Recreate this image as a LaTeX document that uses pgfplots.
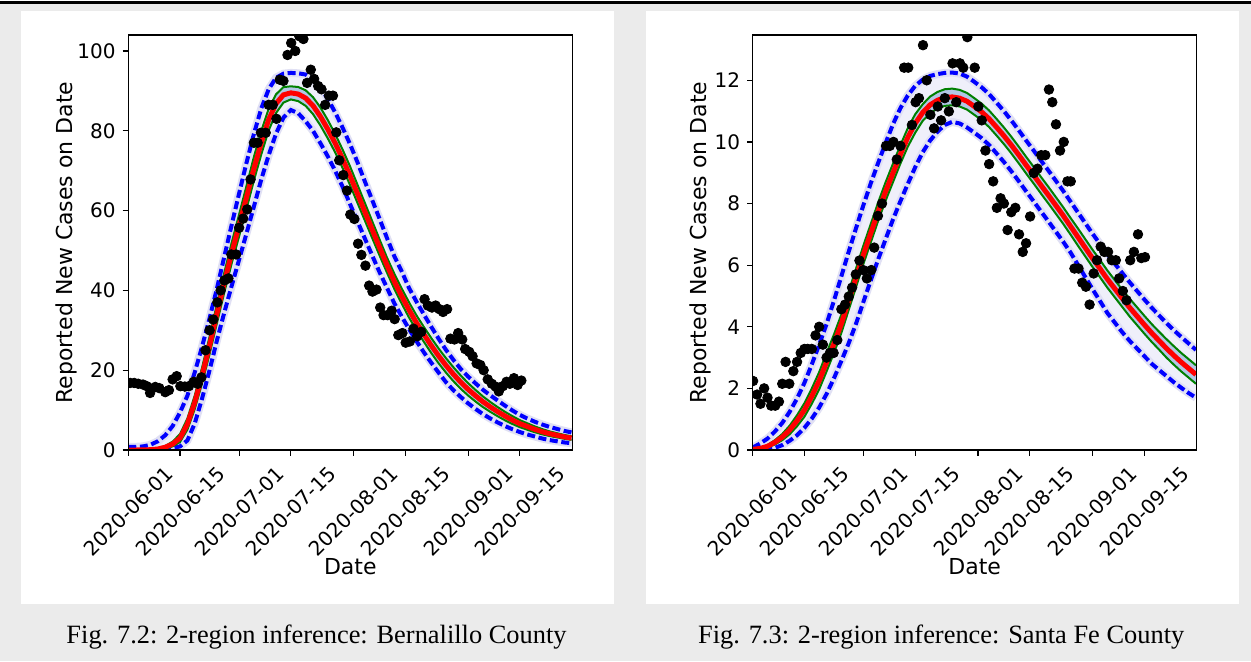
\documentclass[border=0pt]{standalone}
\usepackage{pgfplots}
\usepackage{pgfplotstable}
\pgfplotsset{compat=1.18}
\usepackage{fontspec}
\newfontfamily\dejavu{DejaVu Sans}
\newfontfamily\capfont{Liberation Serif}

\definecolor{bgGray}{RGB}{235,235,235}
\definecolor{ensLav}{RGB}{239,239,250}
\definecolor{ensHalo}{RGB}{224,224,244}
\definecolor{steelFill}{RGB}{178,198,230}
\definecolor{mplGreen}{RGB}{0,128,0}

\pgfplotstableread{
d R GU GL BU BL
0 0.0 0.0 0.0 0.8 0.0
2 0.0 0.01 0.0 0.8 0.0
4 0.02 0.05 0.0 0.9 0.0
6 0.08 0.15 0.03 1.3 0.0
8 0.25 0.38 0.12 2.2 0.05
10 0.7 1.0 0.4 3.7 0.2
12 1.5 2.1 0.9 6.0 0.5
14 3.0 4.0 2.0 9.4 0.9
16 6.5 7.9 5.1 13.6 2.4
18 12.0 13.7 10.3 19.5 6.7
20 18.8 20.8 16.8 26.0 13.0
22 26.2 28.4 24.0 33.0 20.0
24 34.2 36.6 31.8 40.5 27.5
26 42.0 44.5 39.5 48.5 34.5
28 49.4 52.02 46.78 56.5 41.2
30 56.3 59.06 53.54 64.3 47.7
32 63.3 66.22 60.38 72.0 54.3
34 70.5 73.47 67.53 79.2 61.0
36 77.0 79.94 74.06 85.6 67.8
38 82.8 85.52 80.08 90.4 73.9
40 86.8 89.14 84.46 93.3 79.3
42 89.0 90.94 87.06 94.3 83.3
44 89.5 91.14 87.86 94.5 85.2
46 89.2 90.97 87.43 94.4 84.4
48 88.2 90.15 86.25 94.1 82.4
50 86.3 88.43 84.17 92.9 80.0
52 83.6 85.85 81.35 90.9 76.9
54 80.4 82.7 78.1 88.0 73.6
56 76.9 79.21 74.59 84.6 70.0
58 73.0 75.31 70.69 80.8 66.0
60 68.8 71.14 66.46 76.7 61.7
62 64.3 66.59 62.01 72.2 57.4
64 59.8 62.01 57.59 67.4 53.1
66 55.3 57.43 53.17 62.7 48.8
68 50.8 52.82 48.78 58.0 44.6
70 46.4 48.3 44.5 53.2 40.7
72 42.3 44.21 40.39 48.6 36.8
74 38.6 40.5 36.7 44.8 33.5
76 35.1 37.02 33.18 40.6 30.3
78 31.9 33.77 30.03 37.2 27.3
80 29.0 30.87 27.13 34.0 24.5
82 26.2 28.08 24.32 30.9 21.9
84 23.6 25.46 21.74 27.9 19.4
86 21.2 23.01 19.39 25.1 17.0
88 19.0 20.75 17.25 22.6 15.0
90 17.0 18.67 15.33 20.3 13.3
92 15.2 16.75 13.65 18.4 11.7
94 13.6 15.05 12.15 16.7 10.3
96 12.1 13.44 10.76 15.1 9.0
98 10.8 12.04 9.56 13.7 7.9
100 9.6 10.75 8.45 12.4 6.9
102 8.5 9.56 7.44 11.1 6.0
104 7.5 8.48 6.52 9.9 5.2
106 6.6 7.48 5.72 8.8 4.5
108 5.9 6.71 5.09 7.9 3.9
110 5.2 5.93 4.47 7.1 3.4
112 4.6 5.26 3.94 6.4 2.9
114 4.1 4.68 3.52 5.8 2.5
116 3.7 4.23 3.17 5.3 2.2
118 3.3 3.78 2.82 4.8 1.9
120 3.0 3.45 2.55 4.4 1.7
}\Lcurves

\pgfplotstableread{
d y
0.5 16.8
1.6 16.8
2.7 16.6
4.0 16.4
5.0 16.0
5.9 14.3
7.3 15.8
8.4 15.5
10.0 14.5
11.0 15.0
12.0 17.7
13.1 18.5
14.1 16.0
15.3 15.9
16.4 16.0
17.7 17.1
18.8 16.6
19.8 18.2
20.9 25.0
22.0 30.0
23.0 32.7
24.1 37.0
25.0 40.0
26.0 42.5
27.1 43.0
27.9 49.0
29.2 49.0
30.0 55.7
31.1 58.0
32.2 60.3
33.1 67.8
34.0 77.0
35.0 77.0
35.9 79.5
37.2 79.5
38.0 86.5
39.1 86.5
40.1 83.0
41.0 92.8
42.0 92.5
43.1 99.0
44.1 102.0
45.2 100.0
46.3 103.7
47.4 103.0
48.4 92.0
49.4 95.3
50.3 93.0
51.4 91.2
52.3 90.4
53.3 86.5
54.3 88.8
55.4 88.8
56.3 79.6
57.1 72.6
58.2 68.9
59.2 65.0
60.1 59.0
61.2 57.9
62.2 51.7
63.1 48.9
64.2 46.2
65.2 41.2
66.1 39.7
67.2 40.2
68.2 35.7
69.1 33.8
70.2 33.8
71.3 34.9
72.1 32.8
73.1 28.8
74.2 29.3
75.1 26.9
76.2 27.2
77.2 30.4
78.2 28.5
79.3 29.6
80.2 37.8
81.1 36.2
82.2 35.7
83.2 36.2
84.2 35.3
85.2 34.6
86.3 35.3
87.2 27.9
88.3 27.7
89.3 29.3
90.4 27.7
91.2 25.3
92.3 24.6
93.2 23.5
94.3 21.7
95.3 21.3
96.2 20.0
97.3 17.7
98.4 16.6
99.4 15.9
100.3 14.7
101.4 16.0
102.4 17.1
103.3 16.6
104.4 18.0
105.4 16.3
106.4 17.4
}\Ldots

\pgfplotstableread{
d R GU GL BU BL
0 0.02 0.03 0.01 0.08 0.0
2 0.05 0.07 0.03 0.21 0.0
4 0.12 0.16 0.08 0.37 0.03
6 0.25 0.32 0.18 0.6 0.07
8 0.42 0.52 0.32 0.88 0.16
10 0.65 0.79 0.51 1.24 0.3
12 0.95 1.13 0.77 1.67 0.48
14 1.3 1.52 1.08 2.18 0.72
16 1.75 2.0 1.5 2.78 1.02
18 2.25 2.53 1.97 3.42 1.38
20 2.85 3.15 2.55 4.09 1.82
22 3.45 3.75 3.15 4.85 2.33
24 4.1 4.4 3.8 5.64 2.89
26 4.85 5.15 4.55 6.44 3.47
28 5.6 5.9 5.3 7.21 4.11
30 6.35 6.65 6.05 7.96 4.82
32 7.05 7.35 6.75 8.67 5.52
34 7.75 8.05 7.45 9.33 6.2
36 8.4 8.7 8.1 9.97 6.85
38 9.0 9.3 8.7 10.58 7.49
40 9.6 9.9 9.3 11.1 8.08
42 10.15 10.45 9.85 11.51 8.64
44 10.6 10.9 10.3 11.82 9.18
46 10.95 11.22 10.68 12.02 9.66
48 11.2 11.47 10.93 12.14 10.04
50 11.35 11.62 11.08 12.2 10.33
52 11.44 11.71 11.17 12.24 10.55
54 11.46 11.73 11.19 12.25 10.65
56 11.42 11.69 11.15 12.22 10.6
58 11.32 11.59 11.05 12.12 10.47
60 11.15 11.42 10.88 11.95 10.3
62 10.97 11.24 10.7 11.77 10.12
64 10.75 11.02 10.48 11.55 9.9
66 10.48 10.75 10.21 11.28 9.63
68 10.2 10.47 9.93 11.0 9.35
70 9.9 10.17 9.63 10.7 9.05
72 9.58 9.85 9.31 10.38 8.73
74 9.25 9.52 8.98 10.05 8.4
76 8.93 9.2 8.66 9.73 8.08
78 8.6 8.87 8.33 9.4 7.75
80 8.28 8.55 8.01 9.08 7.43
82 7.95 8.22 7.68 8.75 7.1
84 7.62 7.89 7.35 8.42 6.77
86 7.27 7.54 7.0 8.07 6.42
88 6.92 7.2 6.64 7.72 6.02
90 6.57 6.85 6.29 7.37 5.62
92 6.22 6.5 5.94 7.02 5.22
94 5.89 6.17 5.61 6.69 4.84
96 5.55 5.83 5.27 6.36 4.45
98 5.24 5.52 4.96 6.05 4.14
100 4.93 5.21 4.65 5.75 3.83
102 4.63 4.92 4.34 5.45 3.55
104 4.35 4.64 4.06 5.17 3.3
106 4.07 4.36 3.78 4.89 3.05
108 3.8 4.09 3.51 4.62 2.8
110 3.55 3.84 3.26 4.37 2.6
112 3.3 3.6 3.0 4.12 2.4
114 3.07 3.37 2.77 3.89 2.2
116 2.85 3.15 2.55 3.67 2.02
118 2.65 2.95 2.35 3.46 1.85
120 2.45 2.75 2.15 3.25 1.7
}\Rcurves

\pgfplotstableread{
d y
0.1 2.24
1.2 1.8
2.1 1.5
3.1 2.0
4.0 1.7
5.0 1.44
6.1 1.44
7.1 1.57
8.0 2.15
8.9 2.86
9.9 2.15
11.0 2.56
12.0 2.86
13.0 3.15
14.0 3.28
14.9 3.28
16.0 3.28
17.0 3.72
18.0 4.0
19.0 3.42
20.0 3.0
20.9 3.15
21.9 3.15
22.9 3.57
24.0 4.57
25.0 4.72
26.0 4.98
26.9 5.27
27.9 5.7
28.9 6.15
29.9 5.84
30.9 5.57
32.1 5.84
32.9 6.57
33.9 7.6
35.0 8.0
36.1 9.87
37.1 9.87
38.1 10.0
39.0 9.43
40.0 9.87
41.0 12.41
42.1 12.41
43.1 10.55
44.1 11.29
45.0 11.42
46.1 13.14
47.1 12.0
48.1 10.88
49.1 10.44
50.1 11.15
51.0 10.7
52.0 11.42
53.1 10.99
54.1 12.55
55.1 11.29
56.1 12.55
57.0 12.41
58.1 13.4
60.1 12.41
61.1 11.15
62.0 10.7
63.0 9.72
64.0 9.28
65.1 8.72
66.1 7.86
67.1 8.17
68.0 8.0
69.0 7.14
70.0 7.72
71.1 7.86
72.1 7.0
73.1 6.43
74.0 6.71
75.1 7.58
76.1 8.99
77.1 9.13
78.1 9.57
79.2 9.57
80.2 11.7
81.1 11.29
82.1 10.57
83.2 9.72
84.2 10.0
85.2 8.72
86.1 8.72
87.1 5.89
88.2 5.89
89.2 5.43
90.2 5.3
91.2 4.72
92.3 5.73
93.2 6.16
94.2 6.6
95.2 6.43
96.2 6.43
97.2 6.16
98.3 6.16
99.2 5.57
100.2 5.16
101.2 4.86
102.2 6.16
103.2 6.43
104.3 7.0
105.2 6.23
106.2 6.26
}\Rdots

\pgfplotsset{
  panel/.style={
    scale only axis, width=222pt, height=207.5pt,
    xmin=0, xmax=120.2, ymin=0,
    axis on top=true,
    axis line style={line width=0.6pt, black},
    tick align=outside, tick pos=left,
    major tick length=2.8pt,
    every tick/.style={black, line width=0.6pt},
    xtick={0,14,30,44,61,75,92,106},
    xticklabels={2020-06-01,2020-06-15,2020-07-01,2020-07-15,2020-08-01,2020-08-15,2020-09-01,2020-09-15},
    xticklabel style={font=\dejavu\fontsize{10}{12}\selectfont, inner sep=0pt, anchor=center, yshift=-28pt, rotate=45},
    yticklabel style={font=\dejavu\fontsize{10}{12}\selectfont},
    xlabel={Date},
    ylabel={Reported New Cases on Date},
    every axis x label/.style={at={(axis description cs:0.5,0)}, anchor=center, yshift=-58.2pt, inner sep=0pt, font=\dejavu\fontsize{11}{13}\selectfont},
    clip marker paths=true,
    /pgf/number format/assume math mode=true,
  },
  halo/.style={ensHalo, line width=4pt},
  bdash/.style={blue, line width=2pt, dash pattern=on 4pt off 1.8pt},
  gline/.style={mplGreen, line width=1pt},
  rline/.style={red, line width=2.5pt},
  dots/.style={only marks, mark=*, mark size=2.4pt, black, mark options={fill=black, draw=black}},
}

\begin{document}
\begin{tikzpicture}
\fill[bgGray] (0,0) rectangle (625.5pt,330.5pt);
\fill[white] (0,329.9pt) rectangle (625.5pt,330.5pt);
\fill[black] (0,328.6pt) rectangle (625.5pt,329.9pt);
\fill[white] (10.3pt,28.65pt) rectangle (307pt,324.8pt);
\fill[white] (323pt,28.65pt) rectangle (619.5pt,324.8pt);

\begin{axis}[panel, at={(64.15pt,105.5pt)}, anchor=south west,
  ymax=104, ytick={0,20,40,60,80,100},
  every axis y label/.style={at={(axis description cs:-0.1403,0.5)}, rotate=90, anchor=center, inner sep=0pt, font=\dejavu\fontsize{11}{13}\selectfont}]
  \addplot[draw=none, fill=ensLav] table[x=d, y=BU] {\Lcurves} \closedcycle;
  \addplot[draw=none, fill=steelFill] table[x=d, y=GU] {\Lcurves} \closedcycle;
  \addplot[draw=none, fill=ensLav] table[x=d, y=GL] {\Lcurves} \closedcycle;
  \addplot[draw=none, fill=white] table[x=d, y=BL] {\Lcurves} \closedcycle;
  \addplot[halo] table[x=d, y=BU] {\Lcurves};
  \addplot[halo] table[x=d, y=BL] {\Lcurves};
  \addplot[bdash] table[x=d, y=BU] {\Lcurves};
  \addplot[bdash] table[x=d, y=BL] {\Lcurves};
  \addplot[gline] table[x=d, y=GU] {\Lcurves};
  \addplot[gline] table[x=d, y=GL] {\Lcurves};
  \addplot[rline] table[x=d, y=R] {\Lcurves};
  \addplot[dots] table[x=d, y=y] {\Ldots};
\end{axis}

\begin{axis}[panel, at={(376.35pt,105.5pt)}, anchor=south west,
  ymax=13.47, ytick={0,2,4,6,8,10,12},
  every axis y label/.style={at={(axis description cs:-0.1168,0.5)}, rotate=90, anchor=center, inner sep=0pt, font=\dejavu\fontsize{11}{13}\selectfont}]
  \addplot[draw=none, fill=ensLav] table[x=d, y=BU] {\Rcurves} \closedcycle;
  \addplot[draw=none, fill=steelFill] table[x=d, y=GU] {\Rcurves} \closedcycle;
  \addplot[draw=none, fill=ensLav] table[x=d, y=GL] {\Rcurves} \closedcycle;
  \addplot[draw=none, fill=white] table[x=d, y=BL] {\Rcurves} \closedcycle;
  \addplot[halo] table[x=d, y=BU] {\Rcurves};
  \addplot[halo] table[x=d, y=BL] {\Rcurves};
  \addplot[bdash] table[x=d, y=BU] {\Rcurves};
  \addplot[bdash] table[x=d, y=BL] {\Rcurves};
  \addplot[gline] table[x=d, y=GU] {\Rcurves};
  \addplot[gline] table[x=d, y=GL] {\Rcurves};
  \addplot[rline] table[x=d, y=R] {\Rcurves};
  \addplot[dots] table[x=d, y=y] {\Rdots};
\end{axis}

\node[font=\capfont\fontsize{13.2}{16}\selectfont, anchor=base, inner sep=0pt] at (158.25pt,9pt) {Fig. 7.2: 2-region inference: Bernalillo County};
\node[font=\capfont\fontsize{13.2}{16}\selectfont, anchor=base, inner sep=0pt] at (470.6pt,9pt) {Fig. 7.3: 2-region inference: Santa Fe County};
\pgfresetboundingbox
\path (0,0) rectangle (625.5pt,330.5pt);
\end{tikzpicture}
\end{document}
